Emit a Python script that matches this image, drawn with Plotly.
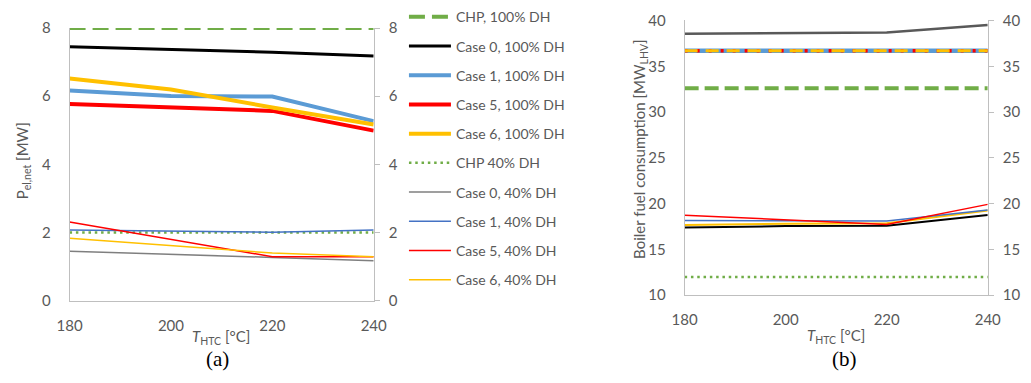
import plotly.graph_objects as go

# Hydrothermal carbonization temperature [°C]
t_htc = [180, 200, 220, 240]

# (a) Net electric power output [MW]
p_chp_100 = [8.0, 8.0, 8.0, 8.0]
p_case0_100 = [7.45, 7.37, 7.29, 7.18]
p_case1_100 = [6.17, 6.01, 5.99, 5.27]
p_case5_100 = [5.77, 5.66, 5.57, 4.99]
p_case6_100 = [6.52, 6.20, 5.67, 5.17]
p_chp_40 = [2.0, 2.0, 2.0, 2.0]
p_case0_40 = [1.45, 1.37, 1.27, 1.17]
p_case1_40 = [2.07, 2.04, 2.01, 2.07]
p_case5_40 = [2.31, 1.79, 1.29, 1.29]
p_case6_40 = [1.83, 1.61, 1.40, 1.29]

# (b) Boiler fuel consumption [MW_LHV]
f_chp_100 = [32.6, 32.6, 32.6, 32.6]
f_case0_100 = [38.55, 38.6, 38.68, 39.5]
f_case1_100 = [36.7, 36.7, 36.7, 36.7]
f_case5_100 = [36.7, 36.7, 36.7, 36.7]
f_case6_100 = [36.7, 36.7, 36.7, 36.7]
f_chp_40 = [12.0, 12.0, 12.0, 12.0]
f_case0_40 = [17.4, 17.55, 17.58, 18.77]
f_case1_40 = [18.15, 18.15, 18.1, 19.3]
f_case5_40 = [18.74, 18.25, 17.73, 19.92]
f_case6_40 = [17.66, 17.8, 17.85, 19.26]

GREEN = "#70AD47"
BLUE = "#5B9BD5"
DBLUE = "#4472C4"
RED = "#FF0000"
GOLD = "#FFC000"
TXT = "#595959"
AXIS = "#BFBFBF"
FONT = "Lato"

fig = go.Figure()

left_series = [
    ("CHP, 100% DH", p_chp_100, dict(color=GREEN, width=4, dash="16px,7px")),
    ("Case 0, 100% DH", p_case0_100, dict(color="#000000", width=3)),
    ("Case 1, 100% DH", p_case1_100, dict(color=BLUE, width=4)),
    ("Case 5, 100% DH", p_case5_100, dict(color=RED, width=4)),
    ("Case 6, 100% DH", p_case6_100, dict(color=GOLD, width=4)),
    ("CHP 40% DH", p_chp_40, dict(color=GREEN, width=2.5, dash="2.5px,3.8px")),
    ("Case 0, 40% DH", p_case0_40, dict(color="#7F7F7F", width=1.5)),
    ("Case 1, 40% DH", p_case1_40, dict(color=DBLUE, width=1.5)),
    ("Case 5, 40% DH", p_case5_40, dict(color=RED, width=1.5)),
    ("Case 6, 40% DH", p_case6_40, dict(color=GOLD, width=1.5)),
]
for i, (name, vals, line) in enumerate(left_series):
    fig.add_trace(go.Scatter(
        x=t_htc, y=vals, mode="lines", name=name, line=line,
        xaxis="x", yaxis="y", legendgroup=f"g{i}", showlegend=True,
    ))

right_series = [
    (f_chp_40, dict(color=GREEN, width=2.5, dash="2.5px,3.8px")),
    (f_case0_40, dict(color="#000000", width=2)),
    (f_case6_40, dict(color=GOLD, width=2)),
    (f_case1_40, dict(color=DBLUE, width=1.5)),
    (f_case5_40, dict(color=RED, width=1.5)),
    (f_chp_100, dict(color=GREEN, width=4, dash="14px,6px")),
    (f_case0_100, dict(color="#595959", width=2.5)),
    (f_case1_100, dict(color=BLUE, width=4.5)),
    (f_case5_100, dict(color=RED, width=3.5, dash="3px,9px")),
    (f_case6_100, dict(color=GOLD, width=3, dash="13px,8px")),
]
for vals, line in right_series:
    fig.add_trace(go.Scatter(
        x=t_htc, y=vals, mode="lines", line=line,
        xaxis="x2", yaxis="y3", showlegend=False,
    ))

tickfont = dict(family=FONT, size=15, color=TXT)
xcommon = dict(range=[180, 240], tickvals=t_htc, showline=True, linecolor=AXIS,
               linewidth=1, showgrid=False, zeroline=False, ticks="",
               tickfont=tickfont, ticklabelstandoff=11)
ycommon = dict(showline=True, linecolor=AXIS, linewidth=1, showgrid=False,
               zeroline=False, tickfont=tickfont)

fig.update_layout(
    width=1031, height=383,
    margin=dict(l=0, r=0, t=0, b=0),
    paper_bgcolor="white", plot_bgcolor="white",
    font=dict(family=FONT, color=TXT),
    xaxis=dict(domain=[0.0563, 0.3589], anchor="y", **xcommon),
    yaxis=dict(domain=[0.2037, 0.9504], anchor="x", range=[0, 8], dtick=2,
               ticks="", ticklabelstandoff=15, **ycommon),
    yaxis2=dict(overlaying="y", side="right", anchor="x", range=[0, 8], dtick=2,
                ticks="outside", ticklen=5, tickcolor=AXIS,
                ticklabelstandoff=6, **ycommon),
    xaxis2=dict(domain=[0.6683, 0.9699], anchor="y3", **xcommon),
    yaxis3=dict(domain=[0.2185, 0.9713], anchor="x2", range=[10, 40], dtick=5,
                ticks="", ticklabelstandoff=15, **ycommon),
    yaxis4=dict(overlaying="y3", side="right", anchor="x2", range=[10, 40], dtick=5,
                ticks="outside", ticklen=5, tickcolor=AXIS,
                ticklabelstandoff=6, **ycommon),
    legend=dict(
        x=0.389, xanchor="left", y=1.024, yanchor="top",
        font=dict(family=FONT, size=14, color=TXT),
        traceorder="grouped", tracegroupgap=8, itemwidth=42,
        maxheight=420,
        bgcolor="rgba(0,0,0,0)",
    ),
)

# Placeholder traces so the overlaid right-hand axes get drawn
fig.add_trace(go.Scatter(x=[None], y=[None], xaxis="x", yaxis="y2", showlegend=False))
fig.add_trace(go.Scatter(x=[None], y=[None], xaxis="x2", yaxis="y4", showlegend=False))

title_font = dict(family=FONT, size=15, color=TXT)
annotations = [
    dict(text="P<sub>el,net</sub> [MW]", x=10 / 1031, y=1 - 158 / 383, textangle=-90),
    dict(text="Boiler fuel consumption [MW<sub>LHV</sub>]", x=643 / 1031, y=1 - 146 / 383,
         textangle=-90),
    dict(text="<i>T</i><sub>HTC</sub> [°C]", x=213 / 1031, y=1 - 343 / 383),
    dict(text="<i>T</i><sub>HTC</sub> [°C]", x=844 / 1031, y=1 - 342 / 383),
]
for a in annotations:
    fig.add_annotation(xref="paper", yref="paper", showarrow=False,
                       xanchor="center", yanchor="middle", font=title_font, **a)

for label, xc in [("(a)", 210), ("(b)", 853)]:
    fig.add_annotation(text=label, xref="paper", yref="paper", x=xc / 1031, y=1 - 366 / 383,
                       showarrow=False, xanchor="center", yanchor="middle",
                       font=dict(family="Liberation Serif", size=21, color="#000000"))

fig.write_html("out.html")
